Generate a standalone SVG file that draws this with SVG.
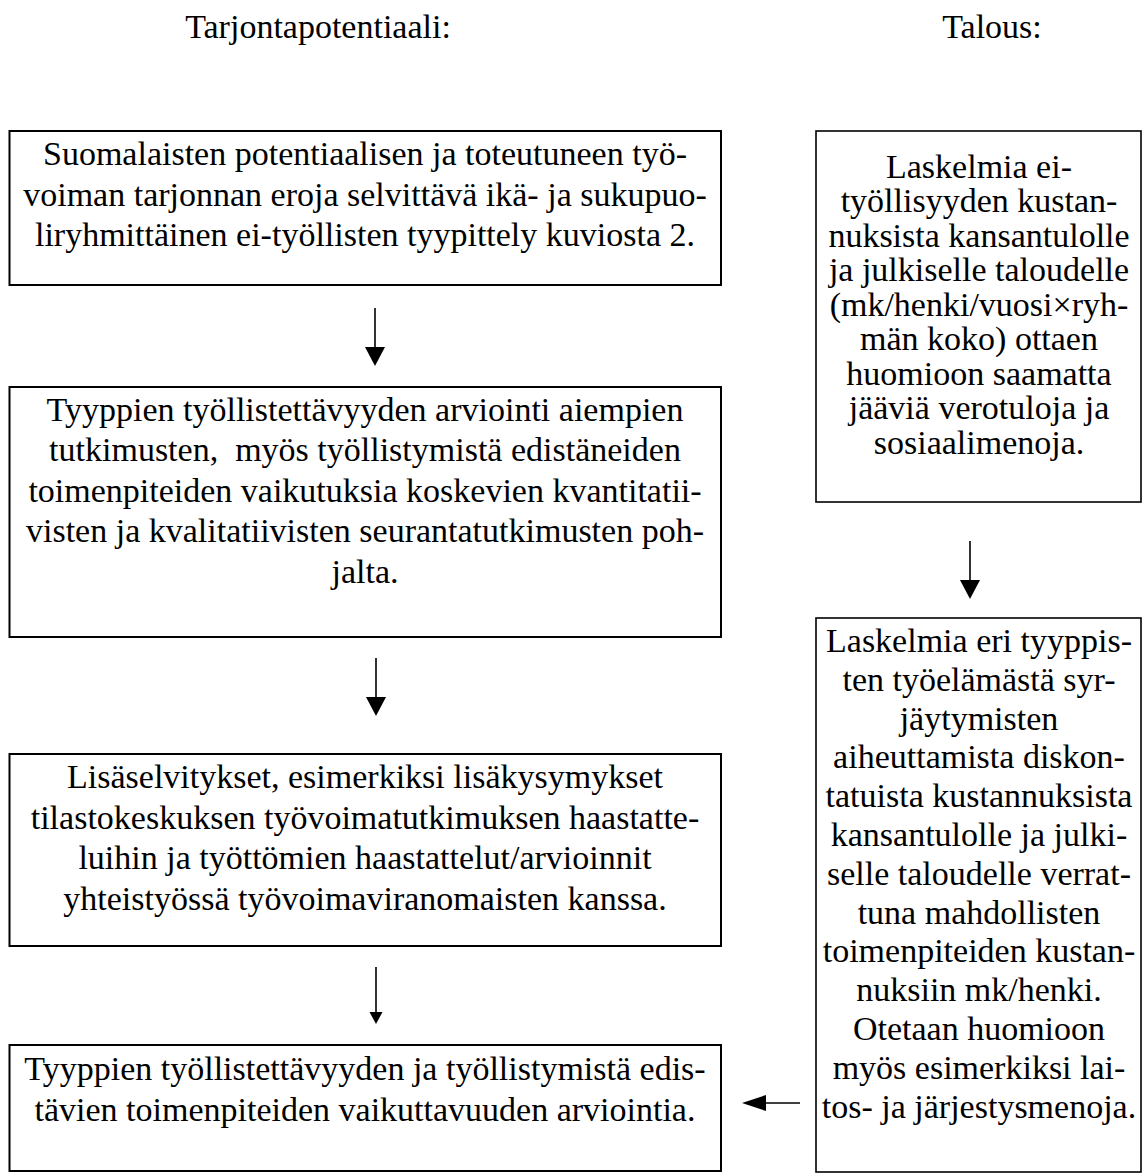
<svg xmlns="http://www.w3.org/2000/svg" width="1142" height="1176" viewBox="0 0 1142 1176">
<style>
text{font-family:"Liberation Serif","Times New Roman",serif;font-size:34px;fill:#000;text-anchor:middle}
.box{fill:#fff;stroke:#000;stroke-width:2}
.rbox{fill:#fff;stroke:#000;stroke-width:1.6}
.ln{stroke:#000;stroke-width:1.6;fill:none}
.hd{fill:#000;stroke:none}
</style>
<rect width="1142" height="1176" fill="#fff"/>
<g id="titles">
<text x="318" y="37.5">Tarjontapotentiaali:</text>
<text x="992" y="37.5">Talous:</text>
</g>
<g id="connectors">
<line class="ln" x1="375" y1="308" x2="375" y2="348"/>
<polygon class="hd" points="365,347 385,347 375,366"/>
<line class="ln" x1="376" y1="658" x2="376" y2="698"/>
<polygon class="hd" points="366,697 386,697 376,716"/>
<line class="ln" x1="376" y1="967" x2="376" y2="1013"/>
<polygon class="hd" points="369.5,1012 382.5,1012 376,1024"/>
<line class="ln" x1="970" y1="541" x2="970" y2="581"/>
<polygon class="hd" points="960,580 980,580 970,599"/>
<line class="ln" x1="800" y1="1103" x2="765" y2="1103"/>
<polygon class="hd" points="766,1095 766,1111 742,1103"/>
</g>
<g id="n1">
<rect class="box" x="9.5" y="131" width="711.5" height="154"/>
<text x="365" y="165">Suomalaisten potentiaalisen ja toteutuneen työ-</text>
<text x="365" y="205.5">voiman tarjonnan eroja selvittävä ikä- ja sukupuo-</text>
<text x="365" y="246">liryhmittäinen ei-työllisten tyypittely kuviosta 2.</text>
</g>
<g id="n2">
<rect class="box" x="9.5" y="387" width="711.5" height="250"/>
<text x="365" y="420.5">Tyyppien työllistettävyyden arviointi aiempien</text>
<text x="365" y="461" xml:space="preserve">tutkimusten,  myös työllistymistä edistäneiden</text>
<text x="365" y="501.5">toimenpiteiden vaikutuksia koskevien kvantitatii-</text>
<text x="365" y="542">visten ja kvalitatiivisten seurantatutkimusten poh-</text>
<text x="365" y="582.5">jalta.</text>
</g>
<g id="n3">
<rect class="box" x="9.5" y="754" width="711.5" height="192"/>
<text x="365" y="788">Lisäselvitykset, esimerkiksi lisäkysymykset</text>
<text x="365" y="828.5">tilastokeskuksen työvoimatutkimuksen haastatte-</text>
<text x="365" y="869">luihin ja työttömien haastattelut/arvioinnit</text>
<text x="365" y="909.5">yhteistyössä työvoimaviranomaisten kanssa.</text>
</g>
<g id="n4">
<rect class="box" x="9.5" y="1045" width="711.5" height="126"/>
<text x="365" y="1080">Tyyppien työllistettävyyden ja työllistymistä edis-</text>
<text x="365" y="1121">tävien toimenpiteiden vaikuttavuuden arviointia.</text>
</g>
<g id="r1">
<rect class="rbox" x="816" y="131" width="325" height="371"/>
<text x="979" y="177.5">Laskelmia ei-</text>
<text x="979" y="212">työllisyyden kustan-</text>
<text x="979" y="246.5">nuksista kansantulolle</text>
<text x="979" y="281">ja julkiselle taloudelle</text>
<text x="979" y="315.5">(mk/henki/vuosi×ryh-</text>
<text x="979" y="350">män koko) ottaen</text>
<text x="979" y="384.5">huomioon saamatta</text>
<text x="979" y="419">jääviä verotuloja ja</text>
<text x="979" y="453.5">sosiaalimenoja.</text>
</g>
<g id="r2">
<rect class="rbox" x="816" y="618" width="325" height="554"/>
<text x="979" y="652">Laskelmia eri tyyppis-</text>
<text x="979" y="690.8">ten työelämästä syr-</text>
<text x="979" y="729.6">jäytymisten</text>
<text x="979" y="768.4">aiheuttamista diskon-</text>
<text x="979" y="807.2">tatuista kustannuksista</text>
<text x="979" y="846">kansantulolle ja julki-</text>
<text x="979" y="884.8">selle taloudelle verrat-</text>
<text x="979" y="923.6">tuna mahdollisten</text>
<text x="979" y="962.4">toimenpiteiden kustan-</text>
<text x="979" y="1001.2">nuksiin mk/henki.</text>
<text x="979" y="1040">Otetaan huomioon</text>
<text x="979" y="1078.8">myös esimerkiksi lai-</text>
<text x="979" y="1117.6">tos- ja järjestysmenoja.</text>
</g>
</svg>
